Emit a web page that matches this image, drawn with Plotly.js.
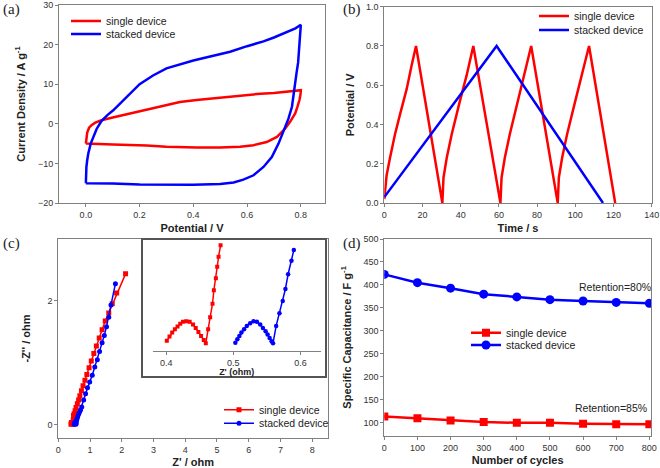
<!DOCTYPE html>
<html>
<head>
<meta charset="utf-8">
<script src="https://cdn.plot.ly/plotly-3.0.1.min.js"></script>
<style>
  body { margin: 0; background: #fff; }
  #chart { width: 660px; height: 468px; }
</style>
</head>
<body>
<div id="chart"></div>
<script>
// (a) cyclic voltammetry loops
const singleCvV = [0, 0.002, 0.005, 0.012, 0.021, 0.035, 0.058, 0.1, 0.164, 0.2, 0.25, 0.288, 0.35, 0.412, 0.5, 0.574, 0.65, 0.7, 0.773, 0.8,
  0.799, 0.795, 0.787, 0.779, 0.76, 0.742, 0.711, 0.673, 0.624, 0.574, 0.5, 0.412, 0.3, 0.226, 0.1, 0.03, 0]
const singleCvJ = [-5, -3.5, -2.2, -1.0, -0.35, 0.3, 0.9, 1.6, 2.6, 3.2, 4.1, 4.7, 5.5, 6.0, 6.6, 7.2, 7.6, 7.8, 8.3, 8.5,
  7.5, 6.0, 4.2, 2.6, 0.5, -1.2, -3.3, -4.6, -5.4, -5.8, -6.0, -6.0, -5.8, -5.5, -5.2, -5.05, -5]
const stackedCvV = [0, 0.0005, 0.002, 0.005, 0.009, 0.018, 0.027, 0.04, 0.058, 0.08, 0.102, 0.145, 0.2, 0.25, 0.3, 0.4, 0.5, 0.537, 0.6, 0.661, 0.7, 0.748, 0.78, 0.8,
  0.796, 0.79, 0.784, 0.779, 0.773, 0.767, 0.754, 0.739, 0.717, 0.692, 0.661, 0.624, 0.586, 0.55, 0.5, 0.4, 0.3, 0.2, 0.1, 0.02, 0]
const stackedCvJ = [-15, -12.5, -10.9, -9.2, -7.5, -5.0, -3.3, -1.3, 0.7, 2.2, 3.4, 6.3, 10.0, 12.2, 14.0, 16.0, 17.6, 18.2, 19.6, 20.8, 21.8, 23.2, 24.1, 25.0,
  20.0, 15.5, 12.8, 10.6, 7.7, 4.3, 1.3, -1.2, -5.0, -8.4, -10.9, -13.0, -14.1, -14.8, -15.2, -15.4, -15.4, -15.3, -15.1, -15.0, -15]

// (b) charge / discharge
const singleTime = [0, 0.4, 1.2, 3.0, 5.6, 8.2, 11.7, 14.3, 16.6,
  30.4, 31.0, 32.7, 35.3, 39.6, 43.1, 46.6,
  60.8, 61.4, 63.1, 65.7, 70.0, 73.5, 76.9,
  90.8, 91.4, 93.1, 95.7, 100.0, 103.5, 107.2, 120.9]
const singlePotential = [0.02, 0.06, 0.14, 0.23, 0.35, 0.45, 0.58, 0.70, 0.80,
  0.0, 0.13, 0.23, 0.35, 0.52, 0.65, 0.80,
  0.0, 0.13, 0.23, 0.35, 0.52, 0.65, 0.80,
  0.0, 0.13, 0.23, 0.35, 0.52, 0.65, 0.80, 0.0]
const stackedTime = [0, 58.8, 114.5]
const stackedPotential = [0.03, 0.80, 0.0]

// (c) Nyquist plot
const singleZre = [0.40, 0.41, 0.42, 0.43, 0.44, 0.45, 0.46, 0.47, 0.48, 0.50, 0.53, 0.56, 0.60, 0.64, 0.68, 0.73, 0.78, 0.84, 0.90, 0.97, 1.04, 1.12, 1.20, 1.29, 1.38, 1.48, 1.59, 1.70, 1.84, 2.12]
const singleZim = [0.01, 0.03, 0.04, 0.04, 0.03, 0.02, 0.01, 0.08, 0.15, 0.18, 0.23, 0.28, 0.34, 0.40, 0.47, 0.55, 0.63, 0.72, 0.81, 0.92, 1.03, 1.15, 1.27, 1.40, 1.53, 1.67, 1.80, 1.95, 2.12, 2.43]
const stackedZre = [0.50, 0.51, 0.52, 0.53, 0.54, 0.55, 0.557, 0.565, 0.575, 0.59, 0.61, 0.64, 0.67, 0.70, 0.74, 0.80, 0.86, 0.92, 0.99, 1.07, 1.15, 1.23, 1.30, 1.38, 1.45, 1.52, 1.59, 1.66, 1.80]
const stackedZim = [0.013, 0.03, 0.04, 0.044, 0.035, 0.02, 0.012, 0.04, 0.07, 0.10, 0.13, 0.17, 0.21, 0.24, 0.29, 0.40, 0.50, 0.60, 0.69, 0.80, 0.93, 1.05, 1.18, 1.32, 1.44, 1.58, 1.73, 1.93, 2.27]

// (c) inset, high frequency region
const insetSingleZre = [0.401, 0.405, 0.409, 0.413, 0.417, 0.421, 0.425, 0.430, 0.435, 0.440, 0.444, 0.448, 0.452, 0.456, 0.459,
  0.4625, 0.4655, 0.469, 0.471, 0.474, 0.476, 0.478, 0.481]
const insetSingleZim = [0.015, 0.021, 0.027, 0.032, 0.036, 0.040, 0.043, 0.044, 0.043, 0.039, 0.034, 0.028, 0.022, 0.016, 0.011,
  0.032, 0.050, 0.070, 0.090, 0.108, 0.125, 0.140, 0.157]
const insetStackedZre = [0.503, 0.506, 0.509, 0.512, 0.516, 0.520, 0.525, 0.530, 0.535, 0.540, 0.544, 0.548, 0.551, 0.554, 0.557, 0.559,
  0.5637, 0.5686, 0.5735, 0.5775, 0.5815, 0.5865, 0.590]
const insetStackedZim = [0.012, 0.017, 0.022, 0.027, 0.032, 0.037, 0.041, 0.044, 0.043, 0.039, 0.034, 0.029, 0.024, 0.019, 0.014, 0.011,
  0.037, 0.056, 0.074, 0.092, 0.114, 0.134, 0.150]

// (d) cycling stability
const cycles = [0, 100, 200, 300, 400, 500, 600, 700, 800]
const singleCapacitance = [114, 110, 105, 102, 100, 100, 98, 97, 97]
const stackedCapacitance = [423, 405, 393, 380, 374, 368, 365, 362, 360]

const W = 660
const H = 468
const RED = '#ff0000'
const BLUE = '#0000ff'
const SANS = 'Liberation Sans, Arial, sans-serif'

// pixel box -> paper domain
function dom(x0, x1, y0, y1) {
  return { x: [x0 / W, x1 / W], y: [1 - y1 / H, 1 - y0 / H] }
}

function axis(extra) {
  return Object.assign({
    showline: true,
    mirror: true,
    linecolor: '#808080',
    linewidth: 1,
    ticks: 'outside',
    ticklen: 3,
    tickcolor: '#808080',
    showgrid: false,
    zeroline: false,
    tickfont: { family: SANS, size: 9, color: '#333' }
  }, extra)
}

function axTitle(text, standoff) {
  return { text: text, standoff: standoff, font: { family: SANS, size: 11, weight: 'bold', color: '#222' } }
}

// one legend per entry so each can sit where the original put it
function legendAt(px, py) {
  return {
    x: (px - 4) / W,
    y: 1 - py / H,
    xanchor: 'left',
    yanchor: 'middle',
    bgcolor: 'rgba(0,0,0,0)',
    borderwidth: 0,
    itemwidth: 30,
    font: { family: SANS, size: 10.5, color: '#222' }
  }
}

const dA = dom(59, 325, 5, 203)
const dB = dom(384.3, 651.7, 6.7, 203)
const dC = dom(58.3, 328, 239, 438)
const dD = dom(384.3, 651, 239, 435.7)
const dIn = dom(152.7, 320.7, 240, 350.7)

const traces = [
  { x: singleCvV, y: singleCvJ, xaxis: 'x', yaxis: 'y', mode: 'lines', name: 'single device',
    line: { color: RED, width: 2.5 }, legend: 'legend' },
  { x: stackedCvV, y: stackedCvJ, xaxis: 'x', yaxis: 'y', mode: 'lines', name: 'stacked device',
    line: { color: BLUE, width: 2.5 }, legend: 'legend2' },
  { x: singleTime, y: singlePotential, xaxis: 'x2', yaxis: 'y2', mode: 'lines', name: 'single device',
    line: { color: RED, width: 2.5 }, legend: 'legend3' },
  { x: stackedTime, y: stackedPotential, xaxis: 'x2', yaxis: 'y2', mode: 'lines', name: 'stacked device',
    line: { color: BLUE, width: 2.5 }, legend: 'legend4' },
  { x: singleZre, y: singleZim, xaxis: 'x3', yaxis: 'y3', mode: 'lines+markers', name: 'single device',
    line: { color: RED, width: 1.5 }, marker: { symbol: 'square', size: 5, color: RED }, legend: 'legend5' },
  { x: stackedZre, y: stackedZim, xaxis: 'x3', yaxis: 'y3', mode: 'lines+markers', name: 'stacked device',
    line: { color: BLUE, width: 1.5 }, marker: { symbol: 'circle', size: 5, color: BLUE }, legend: 'legend6' },
  { x: insetSingleZre, y: insetSingleZim, xaxis: 'x5', yaxis: 'y5', mode: 'lines+markers', showlegend: false,
    line: { color: RED, width: 1.5 }, marker: { symbol: 'square', size: 4, color: RED } },
  { x: insetStackedZre, y: insetStackedZim, xaxis: 'x5', yaxis: 'y5', mode: 'lines+markers', showlegend: false,
    line: { color: BLUE, width: 1.5 }, marker: { symbol: 'circle', size: 4.5, color: BLUE } },
  { x: cycles, y: singleCapacitance, xaxis: 'x4', yaxis: 'y4', mode: 'lines+markers', name: 'single device',
    line: { color: RED, width: 2.5 }, marker: { symbol: 'square', size: 8, color: RED }, legend: 'legend7' },
  { x: cycles, y: stackedCapacitance, xaxis: 'x4', yaxis: 'y4', mode: 'lines+markers', name: 'stacked device',
    line: { color: BLUE, width: 2.5 }, marker: { symbol: 'circle', size: 9, color: BLUE }, legend: 'legend8' }
]

function panelLabel(text, px, py) {
  return { text: text, xref: 'paper', yref: 'paper', x: px / W, y: 1 - py / H,
    xanchor: 'left', yanchor: 'middle', showarrow: false,
    font: { family: 'Liberation Serif, Times New Roman, serif', size: 15, color: '#222' } }
}

function note(text, px, py) {
  return { text: text, xref: 'paper', yref: 'paper', x: px / W, y: 1 - py / H,
    xanchor: 'left', yanchor: 'middle', showarrow: false,
    font: { family: SANS, size: 10.5, color: '#222' } }
}

const layout = {
  width: W,
  height: H,
  margin: { l: 0, r: 0, t: 0, b: 0 },
  paper_bgcolor: '#fff',
  plot_bgcolor: '#fff',
  showlegend: true,
  font: { family: SANS },

  xaxis: axis({ domain: dA.x, anchor: 'y', range: [-0.1, 0.89], tick0: 0, dtick: 0.2, tickformat: '.1f',
    title: axTitle('Potential / V', 5) }),
  yaxis: axis({ domain: dA.y, anchor: 'x', range: [-20, 30], dtick: 10,
    title: axTitle('Current Density / A g<sup>-1</sup>', 10) }),

  xaxis2: axis({ domain: dB.x, anchor: 'y2', range: [0, 140], dtick: 20,
    title: axTitle('Time / s', 5) }),
  yaxis2: axis({ domain: dB.y, anchor: 'x2', range: [0, 1], dtick: 0.2, tickformat: '.1f',
    title: axTitle('Potential / V', 9) }),

  xaxis3: axis({ domain: dC.x, anchor: 'y3', range: [0, 8.5], dtick: 1,
    title: axTitle('Z\' / ohm', 7) }),
  yaxis3: axis({ domain: dC.y, anchor: 'x3', range: [-0.21, 2.99], tickvals: [0, 2],
    title: axTitle('-Z\'\' / ohm', 14) }),

  xaxis4: axis({ domain: dD.x, anchor: 'y4', range: [0, 805], dtick: 100,
    title: axTitle('Number of cycles', 4) }),
  yaxis4: axis({ domain: dD.y, anchor: 'x4', range: [72, 500], dtick: 50,
    title: axTitle('Specific Capacitance / F g<sup>-1</sup>', 9) }),

  xaxis5: axis({ domain: dIn.x, anchor: 'y5', range: [0.38, 0.63], tickvals: [0.4, 0.5, 0.6], tickformat: '.1f',
    mirror: false, title: { text: 'Z\' (ohm)', standoff: 2, font: { family: SANS, size: 9, weight: 'bold', color: '#222' } } }),
  yaxis5: { domain: dIn.y, anchor: 'x5', range: [0, 0.165], visible: false },

  legend: legendAt(70, 21),
  legend2: legendAt(70, 34),
  legend3: legendAt(538, 16),
  legend4: legendAt(538, 30),
  legend5: legendAt(223, 409.7),
  legend6: legendAt(223, 423.3),
  legend7: legendAt(470, 332.7),
  legend8: legendAt(470, 345),

  annotations: [
    panelLabel('(a)', 1, 9),
    panelLabel('(b)', 341, 9),
    panelLabel('(c)', 1, 243),
    panelLabel('(d)', 341, 243),
    note('Retention=80%', 577, 287),
    note('Retention=85%', 573, 408)
  ],

  // frame around the inset
  shapes: [
    { type: 'rect', xref: 'paper', yref: 'paper', layer: 'above',
      x0: 142 / W, x1: 326 / W, y0: 1 - 377 / H, y1: 1 - 239 / H,
      line: { color: '#555', width: 2 } }
  ]
}

Plotly.newPlot('chart', traces, layout, { displayModeBar: false, staticPlot: true })
</script>
</body>
</html>
